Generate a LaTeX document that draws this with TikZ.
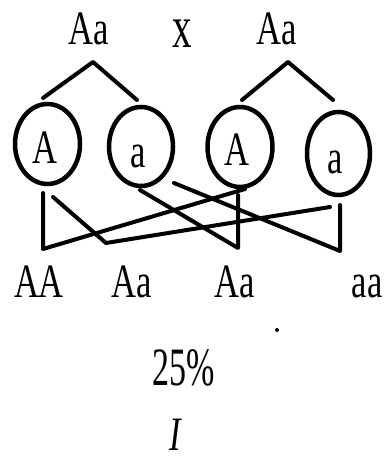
\documentclass[tikz,border=0pt]{standalone}
\usepackage{fontspec}
\setmainfont{Liberation Serif}
\usepackage{graphicx}
\usetikzlibrary{shapes.geometric}
\newcommand{\cnd}[2][0.72]{\scalebox{#1}[1]{#2}}
\tikzset{
  lbl/.style={anchor=base, inner sep=0pt, font=\fontsize{48}{48}\selectfont},
  ln/.style={line width=4pt, line join=round, line cap=round},
  gam/.style={ellipse, draw, line width=4.5pt, inner sep=0pt}
}
\begin{document}
\begin{tikzpicture}[x=1pt,y=-1pt]
\useasboundingbox (0,0) rectangle (384,460);
% parents
\node[lbl] (p1) at (88.5,45) {\cnd{Aa}};
\node[lbl, font=\fontsize{60}{60}\selectfont] (cross) at (182,48) {\cnd[0.65]{x}};
\node[lbl] (p2) at (277,45) {\cnd{Aa}};
% gametes
\node[gam, minimum width=65pt, minimum height=80pt] (c1) at (47.5,144) {};
\node[gam, minimum width=64pt, minimum height=79pt] (c2) at (141,146.5) {};
\node[gam, minimum width=65pt, minimum height=80pt] (c3) at (240,147) {};
\node[gam, minimum width=63pt, minimum height=83pt] (c4) at (338.5,153.5) {};
\node[lbl] (g1) at (44.5,163) {\cnd{A}};
\node[lbl] (g2) at (138.5,167) {\cnd{a}};
\node[lbl] (g3) at (236.5,165) {\cnd{A}};
\node[lbl] (g4) at (335.5,173) {\cnd{a}};
% tree branches
\coordinate (t1) at (93,62);
\coordinate (t1l) at (43,98);
\coordinate (t1r) at (137,100);
\coordinate (t2) at (288,62);
\coordinate (t2l) at (242,100);
\coordinate (t2r) at (333,100);
\draw[ln] (t1l) -- (t1) -- (t1r);
\draw[ln] (t2l) -- (t2) -- (t2r);
% offspring apexes
\coordinate (P1) at (43,249);
\coordinate (P2) at (106,243);
\coordinate (P3) at (238,248);
\coordinate (P4) at (340,251);
% line starts
\coordinate (s1a) at (43,193);
\coordinate (s1b) at (53,197);
\coordinate (s2a) at (140,190);
\coordinate (s2b) at (174,183);
\coordinate (s3a) at (238,195);
\coordinate (s3b) at (245,189);
\coordinate (s4a) at (340,205);
\coordinate (s4b) at (330,207);
\draw[ln] (s1a) -- (P1) -- (s3b);
\draw[ln] (s1b) -- (P2) -- (s4b);
\draw[ln] (s3a) -- (P3) -- (s2a);
\draw[ln] (s4a) -- (P4) -- (s2b);
% offspring labels
\node[lbl] (o1) at (39,297) {\cnd{AA}};
\node[lbl] (o2) at (132,297) {\cnd{Aa}};
\node[lbl] (o3) at (235,297) {\cnd{Aa}};
\node[lbl] (o4) at (367,297) {\cnd{aa}};
\fill (277,330) circle (2pt);
\node[lbl, font=\fontsize{54}{54}\selectfont] (pct) at (183.5,385) {\cnd[0.63]{25\%}};
\node[lbl] (num) at (176,450) {\cnd{\textit{I}}};
\end{tikzpicture}
\end{document}
